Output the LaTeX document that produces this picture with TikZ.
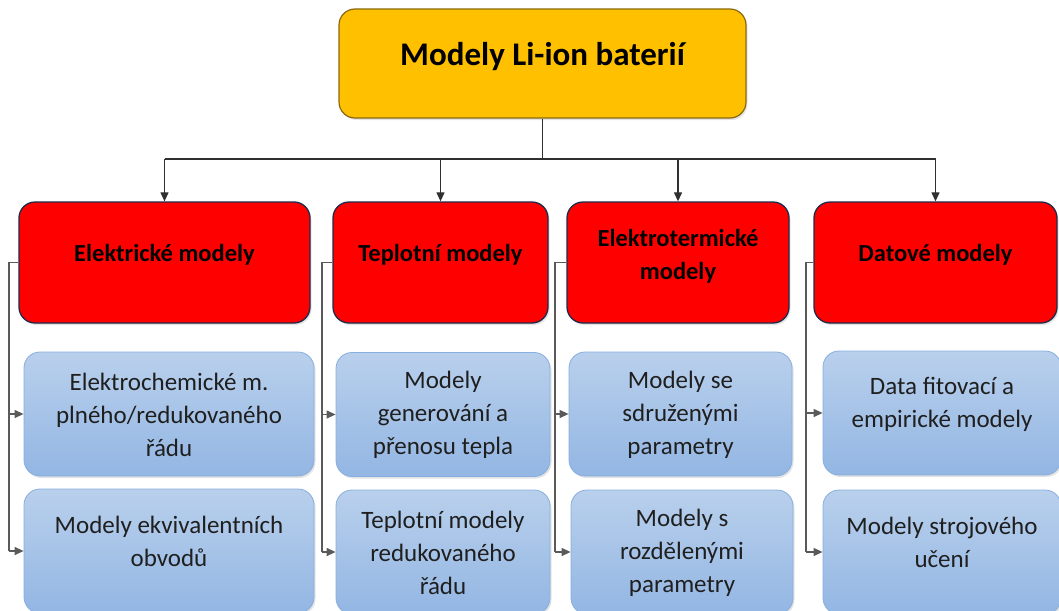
\documentclass[tikz,border=0pt]{standalone}
\usepackage{fontspec}
\setmainfont{Carlito}
\usetikzlibrary{arrows.meta,shadows}
\definecolor{gold}{HTML}{FFC000}
\definecolor{goldline}{HTML}{8A6A12}
\definecolor{redfill}{HTML}{FF0000}
\definecolor{navyline}{HTML}{1F2A4A}
\definecolor{bluetop}{HTML}{B9D0EC}
\definecolor{bluebot}{HTML}{93B6E3}
\definecolor{blueline}{HTML}{86AEDF}
\definecolor{conn}{HTML}{303030}
\definecolor{sideconn}{HTML}{5A5A5A}
\begin{document}
\begin{tikzpicture}[x=1pt,y=-1pt,
  box/.style={rectangle, rounded corners=16pt, inner sep=0pt},
  shad/.style={drop shadow={opacity=0.22, shadow xshift=1.5pt, shadow yshift=-2pt}},
  topbox/.style={box, shad, fill=gold, draw=goldline, line width=1.2pt, minimum width=407pt, minimum height=109pt},
  catbox/.style={box, shad, fill=redfill, draw=navyline, line width=1.3pt, minimum height=121pt},
  subbox/.style={box, shad, draw=blueline, line width=0.8pt, top color=bluetop, bottom color=bluebot, minimum height=124pt},
  titletxt/.style={align=center, font=\bfseries\fontsize{33}{38}\selectfont, text=black},
  cattxt/.style={align=center, font=\bfseries\fontsize{24.5}{33}\selectfont, text=black},
  subtxt/.style={align=center, font=\fontsize{25}{33}\selectfont, text=black!88},
  topline/.style={draw=conn, line width=1.2pt},
  toparrow/.style={draw=conn, line width=1.2pt, -{Triangle[length=9pt,width=8pt]}},
  sidearrow/.style={draw=sideconn, line width=1.2pt, -{Triangle[length=9pt,width=8pt]}}
]
\useasboundingbox (0,0) rectangle (1059,610);
\clip (0,0) rectangle (1059,610);

% top
\node[topbox] (top) at (542.5,63.5) {};
\node[titletxt] (ttop) at (542.5,57) {Modely Li-ion baterií};

% categories
\node[catbox, minimum width=291pt] (c1) at (164.5,262.5) {};
\node[catbox, minimum width=215pt] (c2) at (440.5,262.5) {};
\node[catbox, minimum width=222pt] (c3) at (678,262.5) {};
\node[catbox, minimum width=243pt] (c4) at (935.5,262.5) {};
\node[cattxt] (tc1) at (164.5,255) {Elektrické modely};
\node[cattxt] (tc2) at (440.5,255) {Teplotní modely};
\node[cattxt] (tc3) at (678,256) {Elektrotermické\\modely};
\node[cattxt] (tc4) at (935.5,255) {Datové modely};

% sub boxes
\node[subbox, minimum width=290pt] (s1a) at (169,414) {};
\node[subbox, minimum width=290pt] (s1b) at (169,551) {};
\node[subbox, minimum width=214pt] (s2a) at (443,414.5) {};
\node[subbox, minimum width=214pt] (s2b) at (443,552) {};
\node[subbox, minimum width=223pt] (s3a) at (680.5,414) {};
\node[subbox, minimum width=222pt] (s3b) at (682,552) {};
\node[subbox, minimum width=238pt] (s4a) at (942,413) {};
\node[subbox, minimum width=238pt] (s4b) at (942,552) {};

\node[subtxt] (ts1a) at (169,415) {Elektrochemické m.\\plného/redukovaného\\řádu};
\node[subtxt] (ts1b) at (169,541) {Modely ekvivalentních\\obvodů};
\node[subtxt] (ts2a) at (443,415) {Modely\\generování a\\přenosu tepla};
\node[subtxt] (ts2b) at (443,553) {Teplotní modely\\redukovaného\\řádu};
\node[subtxt] (ts3a) at (680.5,415) {Modely se\\sdruženými\\parametry};
\node[subtxt] (ts3b) at (682,553) {Modely s\\rozdělenými\\parametry};
\node[subtxt] (ts4a) at (942,404.5) {Data fitovací a\\empirické modely};
\node[subtxt] (ts4b) at (942,542) {Modely strojového\\učení};

% top connectors
\coordinate (hub) at (542.5,159);
\draw[topline] (top.south) -- (hub);
\draw[topline] (c1.north |- hub) -- (c4.north |- hub);
\foreach \c in {c1,c2,c3,c4}{
  \draw[toparrow] (\c.north |- hub) -- (\c.north);
}

% side connectors
\coordinate (k1) at (9,0);
\coordinate (k2) at (322,0);
\coordinate (k3) at (555,0);
\coordinate (k4) at (806,0);
\foreach \i in {1,2,3,4}{
  \draw[sideconn, line width=1.2pt] (c\i.west) -- (k\i |- c\i.west) -- (k\i |- s\i b.west);
  \draw[sidearrow] (k\i |- s\i a.west) -- (s\i a.west);
  \draw[sidearrow] (k\i |- s\i b.west) -- (s\i b.west);
}
\end{tikzpicture}
\end{document}
